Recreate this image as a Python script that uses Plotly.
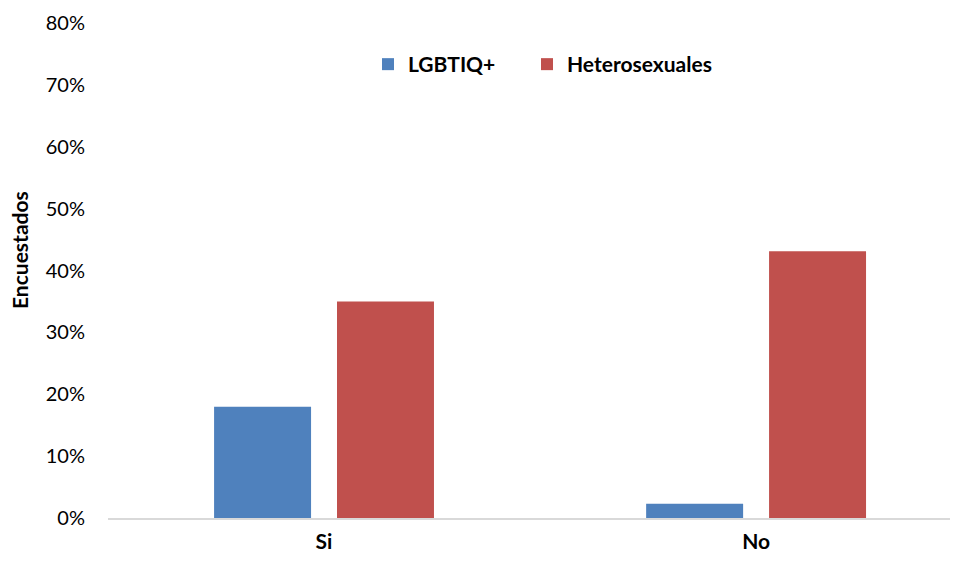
import plotly.graph_objects as go

categories = ["Si", "No"]
lgbtiq = [0.18, 0.023]
hetero = [0.35, 0.431]
series_names = ["LGBTIQ+", "Heterosexuales"]
tick_vals = [0, 0.1, 0.2, 0.3, 0.4, 0.5, 0.6, 0.7, 0.8]
tick_text = ["0%", "10%", "20%", "30%", "40%", "50%", "60%", "70%", "80%"]

FONT = "Lato, Open Sans, sans-serif"
# page body has an 8px margin, so the figure is drawn 8px in from the window
W, H = 950, 557
ML, MR, MT, MB = 100, 1, 15, 47

fig = go.Figure()
fig.add_trace(go.Bar(x=categories, y=lgbtiq, name=series_names[0], legend="legend",
                     marker=dict(color="#4F81BD", line=dict(width=0))))
fig.add_trace(go.Bar(x=categories, y=hetero, name=series_names[1], legend="legend2",
                     marker=dict(color="#C0504D", line=dict(width=0))))

legend_common = dict(orientation="h", xref="container", yref="container",
                     xanchor="left", yanchor="top",
                     font=dict(family=FONT, size=21, color="#000000", weight="bold"),
                     bgcolor="rgba(0,0,0,0)")

fig.update_layout(
    width=W, height=H,
    margin=dict(l=ML, r=MR, t=MT, b=MB, autoexpand=False),
    paper_bgcolor="white", plot_bgcolor="white",
    barmode="group", bargap=0.431, bargroupgap=0.211,
    font=dict(family=FONT, size=20, color="#000000"),
    showlegend=True,
    legend=dict(x=360 / W, y=1 - 36 / H, **legend_common),
    legend2=dict(x=519 / W, y=1 - 36 / H, **legend_common),
    xaxis=dict(range=[-0.5, 1.465], showgrid=False, zeroline=False,
               showline=True, linecolor="#D9D9D9", linewidth=1.5,
               ticks="", ticklabelstandoff=4,
               tickfont=dict(family=FONT, size=21, color="#000000", weight="bold")),
    yaxis=dict(range=[0, 0.8], tickvals=tick_vals, ticktext=tick_text,
               showgrid=False, zeroline=False, showline=False, ticks="",
               ticklabelstandoff=22,
               tickfont=dict(family=FONT, size=20, color="#000000")),
    annotations=[dict(text="Encuestados", xref="paper", yref="paper",
                      x=(12 - ML) / (W - ML - MR),
                      y=(H - MB - 242) / (H - MT - MB),
                      xanchor="center", yanchor="middle",
                      textangle=-90, showarrow=False,
                      font=dict(family=FONT, size=21, color="#000000", weight="bold"))],
)

fig.write_html("out.html")
